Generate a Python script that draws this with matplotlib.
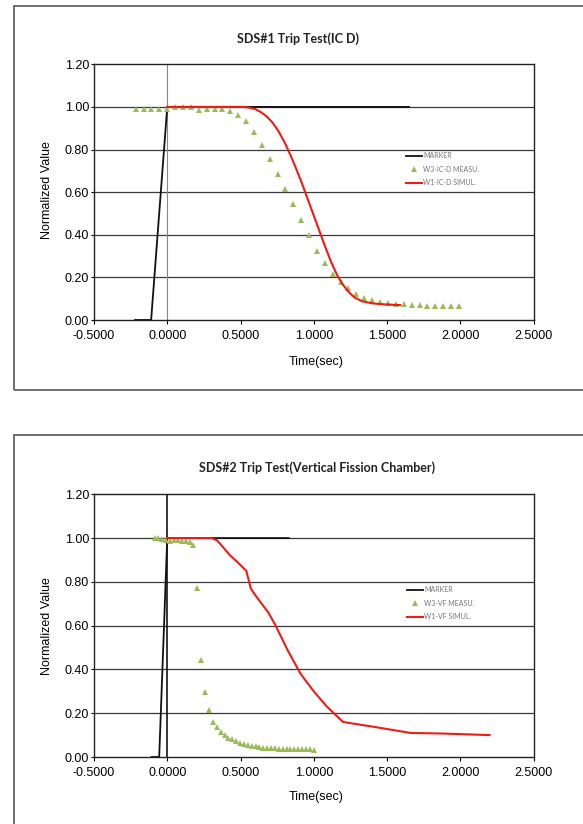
import matplotlib
matplotlib.use("Agg")
import matplotlib.pyplot as plt
from matplotlib.patches import Rectangle
from matplotlib.ticker import FormatStrFormatter

W, H = 583, 824

# ---- chart 1 : SDS#1 (IC D)
title1 = "SDS#1 Trip Test(IC D)"
marker1_t = [-0.22, -0.11, 0.0, 1.65]
marker1_v = [0.0, 0.0, 1.0, 1.0]
meas1_t = [-0.215, -0.161, -0.108, -0.054, 0.000, 0.054, 0.108, 0.161, 0.215, 0.269,
           0.323, 0.377, 0.430, 0.484, 0.538, 0.592, 0.646, 0.699, 0.753, 0.807,
           0.861, 0.915, 0.968, 1.022, 1.076, 1.130, 1.184, 1.237, 1.291, 1.345,
           1.399, 1.453, 1.506, 1.560, 1.614, 1.668, 1.722, 1.775, 1.829, 1.883,
           1.937, 1.991]
meas1_v = [0.992, 0.992, 0.992, 0.992, 0.992, 0.998, 0.998, 0.998, 0.987, 0.988,
           0.992, 0.990, 0.983, 0.961, 0.933, 0.883, 0.823, 0.756, 0.687, 0.615,
           0.543, 0.470, 0.397, 0.326, 0.266, 0.214, 0.177, 0.151, 0.120, 0.103,
           0.094, 0.086, 0.081, 0.076, 0.073, 0.070, 0.069, 0.067, 0.066, 0.066,
           0.065, 0.065]
sim1_t = [0.0, 0.50, 0.55, 0.60, 0.64, 0.68, 0.72, 0.76, 0.80, 0.84, 0.88, 0.92,
          0.96, 1.00, 1.04, 1.08, 1.12, 1.16, 1.20, 1.24, 1.28, 1.33, 1.40, 1.49, 1.59]
sim1_v = [1.0, 1.0, 0.998, 0.990, 0.975, 0.955, 0.925, 0.885, 0.835, 0.775, 0.710,
          0.640, 0.565, 0.490, 0.415, 0.340, 0.270, 0.210, 0.165, 0.130, 0.105,
          0.088, 0.078, 0.073, 0.070]
labels1 = ["MARKER", "W3-IC-D MEASU.", "W1-IC-D SIMUL."]

# ---- chart 2 : SDS#2 (Vertical Fission Chamber)
title2 = "SDS#2 Trip Test(Vertical Fission Chamber)"
marker2_t = [-0.107, -0.055, 0.0, 0.83]
marker2_v = [0.0, 0.0, 1.0, 1.0]
meas2_t = [-0.086, -0.060, -0.033, -0.007, 0.020, 0.046, 0.073, 0.099, 0.126, 0.152,
           0.179, 0.205, 0.232, 0.258, 0.285, 0.311, 0.338, 0.364, 0.391, 0.417,
           0.444, 0.470, 0.497, 0.523, 0.550, 0.576, 0.603, 0.629, 0.656, 0.682,
           0.709, 0.735, 0.762, 0.788, 0.815, 0.841, 0.868, 0.894, 0.921, 0.947,
           0.974, 1.000]
meas2_v = [1.000, 1.000, 0.995, 0.990, 0.985, 0.990, 0.990, 0.985, 0.985, 0.980,
           0.970, 0.773, 0.444, 0.299, 0.214, 0.161, 0.135, 0.115, 0.100, 0.089,
           0.080, 0.072, 0.066, 0.061, 0.057, 0.052, 0.049, 0.046, 0.043, 0.041,
           0.040, 0.039, 0.038, 0.038, 0.037, 0.037, 0.036, 0.036, 0.035, 0.035,
           0.035, 0.034]
sim2_t = [0.0, 0.30, 0.34, 0.43, 0.48, 0.54, 0.57, 0.60, 0.69, 0.74, 0.82, 0.91,
          1.00, 1.09, 1.20, 1.39, 1.66, 1.89, 2.20]
sim2_v = [1.0, 1.0, 0.99, 0.92, 0.89, 0.85, 0.77, 0.74, 0.66, 0.60, 0.49, 0.38,
          0.30, 0.23, 0.16, 0.14, 0.11, 0.107, 0.10]
labels2 = ["MARKER", "W3-VF MEASU.", "W1-VF SIMUL."]

x_ticks = [-0.5, 0.0, 0.5, 1.0, 1.5, 2.0, 2.5]
y_ticks = [0.0, 0.2, 0.4, 0.6, 0.8, 1.0, 1.2]

GREEN = "#9bbb59"
RED = "#ee1c16"
TICKFONT = "Liberation Sans"


def px(x, y):
    # pixel (from top-left) -> figure fraction
    return x / W, 1 - y / H


def draw_chart(fig, rect, box, title, title_xy, xlab_y, ylab_xy,
               mk_t, mk_v, ms_t, ms_v, sm_t, sm_v, labels, leg_xy, zero_color):
    # outer frame of the chart
    bx0, by0, bx1, by1 = box
    fig.patches.append(Rectangle(px(bx0, by1), (bx1 - bx0) / W, (by1 - by0) / H,
                                 transform=fig.transFigure, fill=False,
                                 edgecolor="#555555", linewidth=1.2, clip_on=False))

    ax = fig.add_axes(rect)
    ax.set_xlim(-0.5, 2.5)
    ax.set_ylim(0.0, 1.2)
    ax.set_xticks(x_ticks)
    ax.set_yticks(y_ticks)
    ax.xaxis.set_major_formatter(FormatStrFormatter("%.4f"))
    ax.yaxis.set_major_formatter(FormatStrFormatter("%.2f"))
    for lab in ax.get_xticklabels() + ax.get_yticklabels():
        lab.set_fontfamily(TICKFONT)
        lab.set_fontsize(9)
    ax.tick_params(axis="x", direction="out", length=3, width=0.8, pad=4)
    ax.tick_params(axis="y", direction="out", length=2.5, width=0.8, pad=1)
    for s in ax.spines.values():
        s.set_linewidth(1.0)
        s.set_color("#222222")

    for v in y_ticks[1:-1]:
        ax.axhline(v, color="#3a3a3a", linewidth=0.9, zorder=1)
    ax.axvline(0.0, color=zero_color, linewidth=0.8 if zero_color != "black" else 1.1, zorder=1)

    l1, = ax.plot(mk_t, mk_v, color="#111111", linewidth=1.3, zorder=3)
    l2, = ax.plot(ms_t, ms_v, linestyle="none", marker="^", markersize=4.4,
                  color=GREEN, markeredgewidth=0, zorder=4)
    l3, = ax.plot(sm_t, sm_v, color=RED, linewidth=1.5, zorder=5)

    leg = ax.legend([l1, l2, l3], labels, loc="center left",
                    bbox_to_anchor=leg_xy, frameon=False, borderpad=0,
                    borderaxespad=0, handlelength=2.3, handletextpad=0.15,
                    labelspacing=0.95, prop={"family": "Lato", "size": 5})
    for t in leg.get_texts():
        t.set_color("#777777")

    fig.text(*px(*title_xy), title, ha="center", va="center",
             fontfamily="Lato", fontweight="bold", fontsize=9, color="#222222")
    fig.text(*px(316, xlab_y), "Time(sec)", ha="center", va="center",
             fontfamily=TICKFONT, fontsize=9)
    fig.text(*px(*ylab_xy), "Normalized Value", ha="center", va="center",
             rotation=90, fontfamily=TICKFONT, fontsize=9)
    return ax


fig = plt.figure(figsize=(W / 100, H / 100), dpi=100)
fig.patch.set_facecolor("white")

left = 94 / W
width = (533.5 - 94) / W

draw_chart(fig, [left, 1 - 320 / H, width, (320 - 64.3) / H],
           (14, 6, 600, 390), title1, (298, 39), 362, (46.5, 190),
           marker1_t, marker1_v, meas1_t, meas1_v, sim1_t, sim1_v,
           labels1, (0.71, 0.59), "#888888")

draw_chart(fig, [left, 1 - 757 / H, width, (757 - 494.3) / H],
           (14, 435, 600, 840), title2, (317, 468), 797, (46.5, 626),
           marker2_t, marker2_v, meas2_t, meas2_v, sim2_t, sim2_v,
           labels2, (0.712, 0.586), "black")

fig.savefig("out.png", dpi=100)
